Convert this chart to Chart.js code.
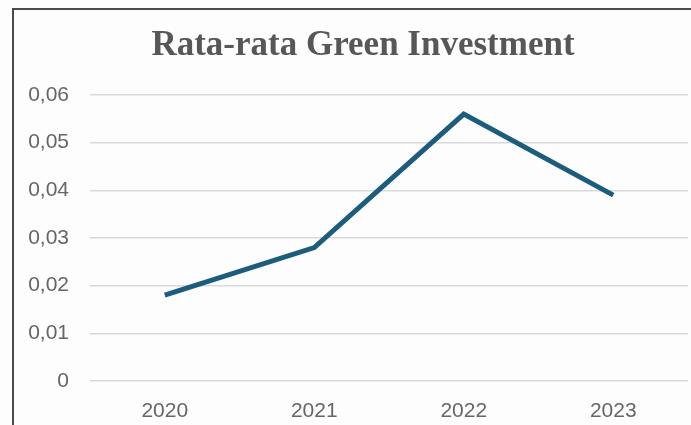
<!DOCTYPE html>
<html>
<head>
<meta charset="utf-8">
<script src="https://cdn.jsdelivr.net/npm/chart.js@4/dist/chart.umd.min.js"></script>
<style>
  html, body { margin: 0; padding: 0; background: #fdfdfd; }
  #wrap { position: relative; width: 691px; height: 425px; overflow: hidden; }
  #frame { position: absolute; left: 12px; top: 8px; width: 700px; height: 440px;
           border-left: 2px solid #4a4a4a; border-top: 2px solid #4a4a4a; }
  canvas { position: absolute; left: 0; top: 0; }
</style>
</head>
<body>
<div id="wrap">
  <div id="frame"></div>
  <canvas id="c" width="691" height="425"></canvas>
</div>
<script>
const titleText = 'Rata-rata Green Investment';
const years = ['2020', '2021', '2022', '2023'];
const greenInvestment = [0.018, 0.028, 0.056, 0.039];
const yTicks = [0, 0.01, 0.02, 0.03, 0.04, 0.05, 0.06];

const fmt = v => v === 0 ? '0' : v.toFixed(2).replace('.', ',');
const tickFont = { family: '"Liberation Sans", Arial, sans-serif', size: 21 };

// title drawn over the canvas, centred like the original picture
const titlePlugin = {
  id: 'titleText',
  afterDraw(chart) {
    const ctx = chart.ctx;
    ctx.save();
    ctx.font = 'bold 35px "Liberation Serif", "DejaVu Serif", serif';
    ctx.fillStyle = '#575757';
    ctx.textAlign = 'center';
    ctx.textBaseline = 'alphabetic';
    ctx.fillText(titleText, 363, 55);
    ctx.restore();
  }
};

new Chart(document.getElementById('c'), {
  type: 'line',
  data: {
    labels: years,
    datasets: [{
      data: greenInvestment,
      borderColor: '#1c5d7e',
      borderWidth: 5,
      pointRadius: 0,
      tension: 0,
      fill: false,
    }],
  },
  options: {
    responsive: false,
    animation: false,
    layout: { padding: { top: 95, right: 3, left: 0, bottom: 0 } },
    plugins: { legend: { display: false }, tooltip: { enabled: false } },
    scales: {
      x: {
        offset: true,
        grid: { display: false, drawTicks: false },
        border: { display: false },
        ticks: { color: '#666', padding: 18, font: tickFont },
        afterFit: s => { s.height = 44; },
      },
      y: {
        min: 0, max: 0.06,
        afterBuildTicks: s => { s.ticks = yTicks.map(v => ({ value: v })); },
        grid: { color: '#d9d9d9', lineWidth: 1.5, drawTicks: false },
        border: { display: false },
        ticks: { color: '#666', padding: 21, callback: v => fmt(v), font: tickFont },
        afterFit: s => { s.width = 90; },
      },
    },
  },
  plugins: [titlePlugin],
});
</script>
</body>
</html>
